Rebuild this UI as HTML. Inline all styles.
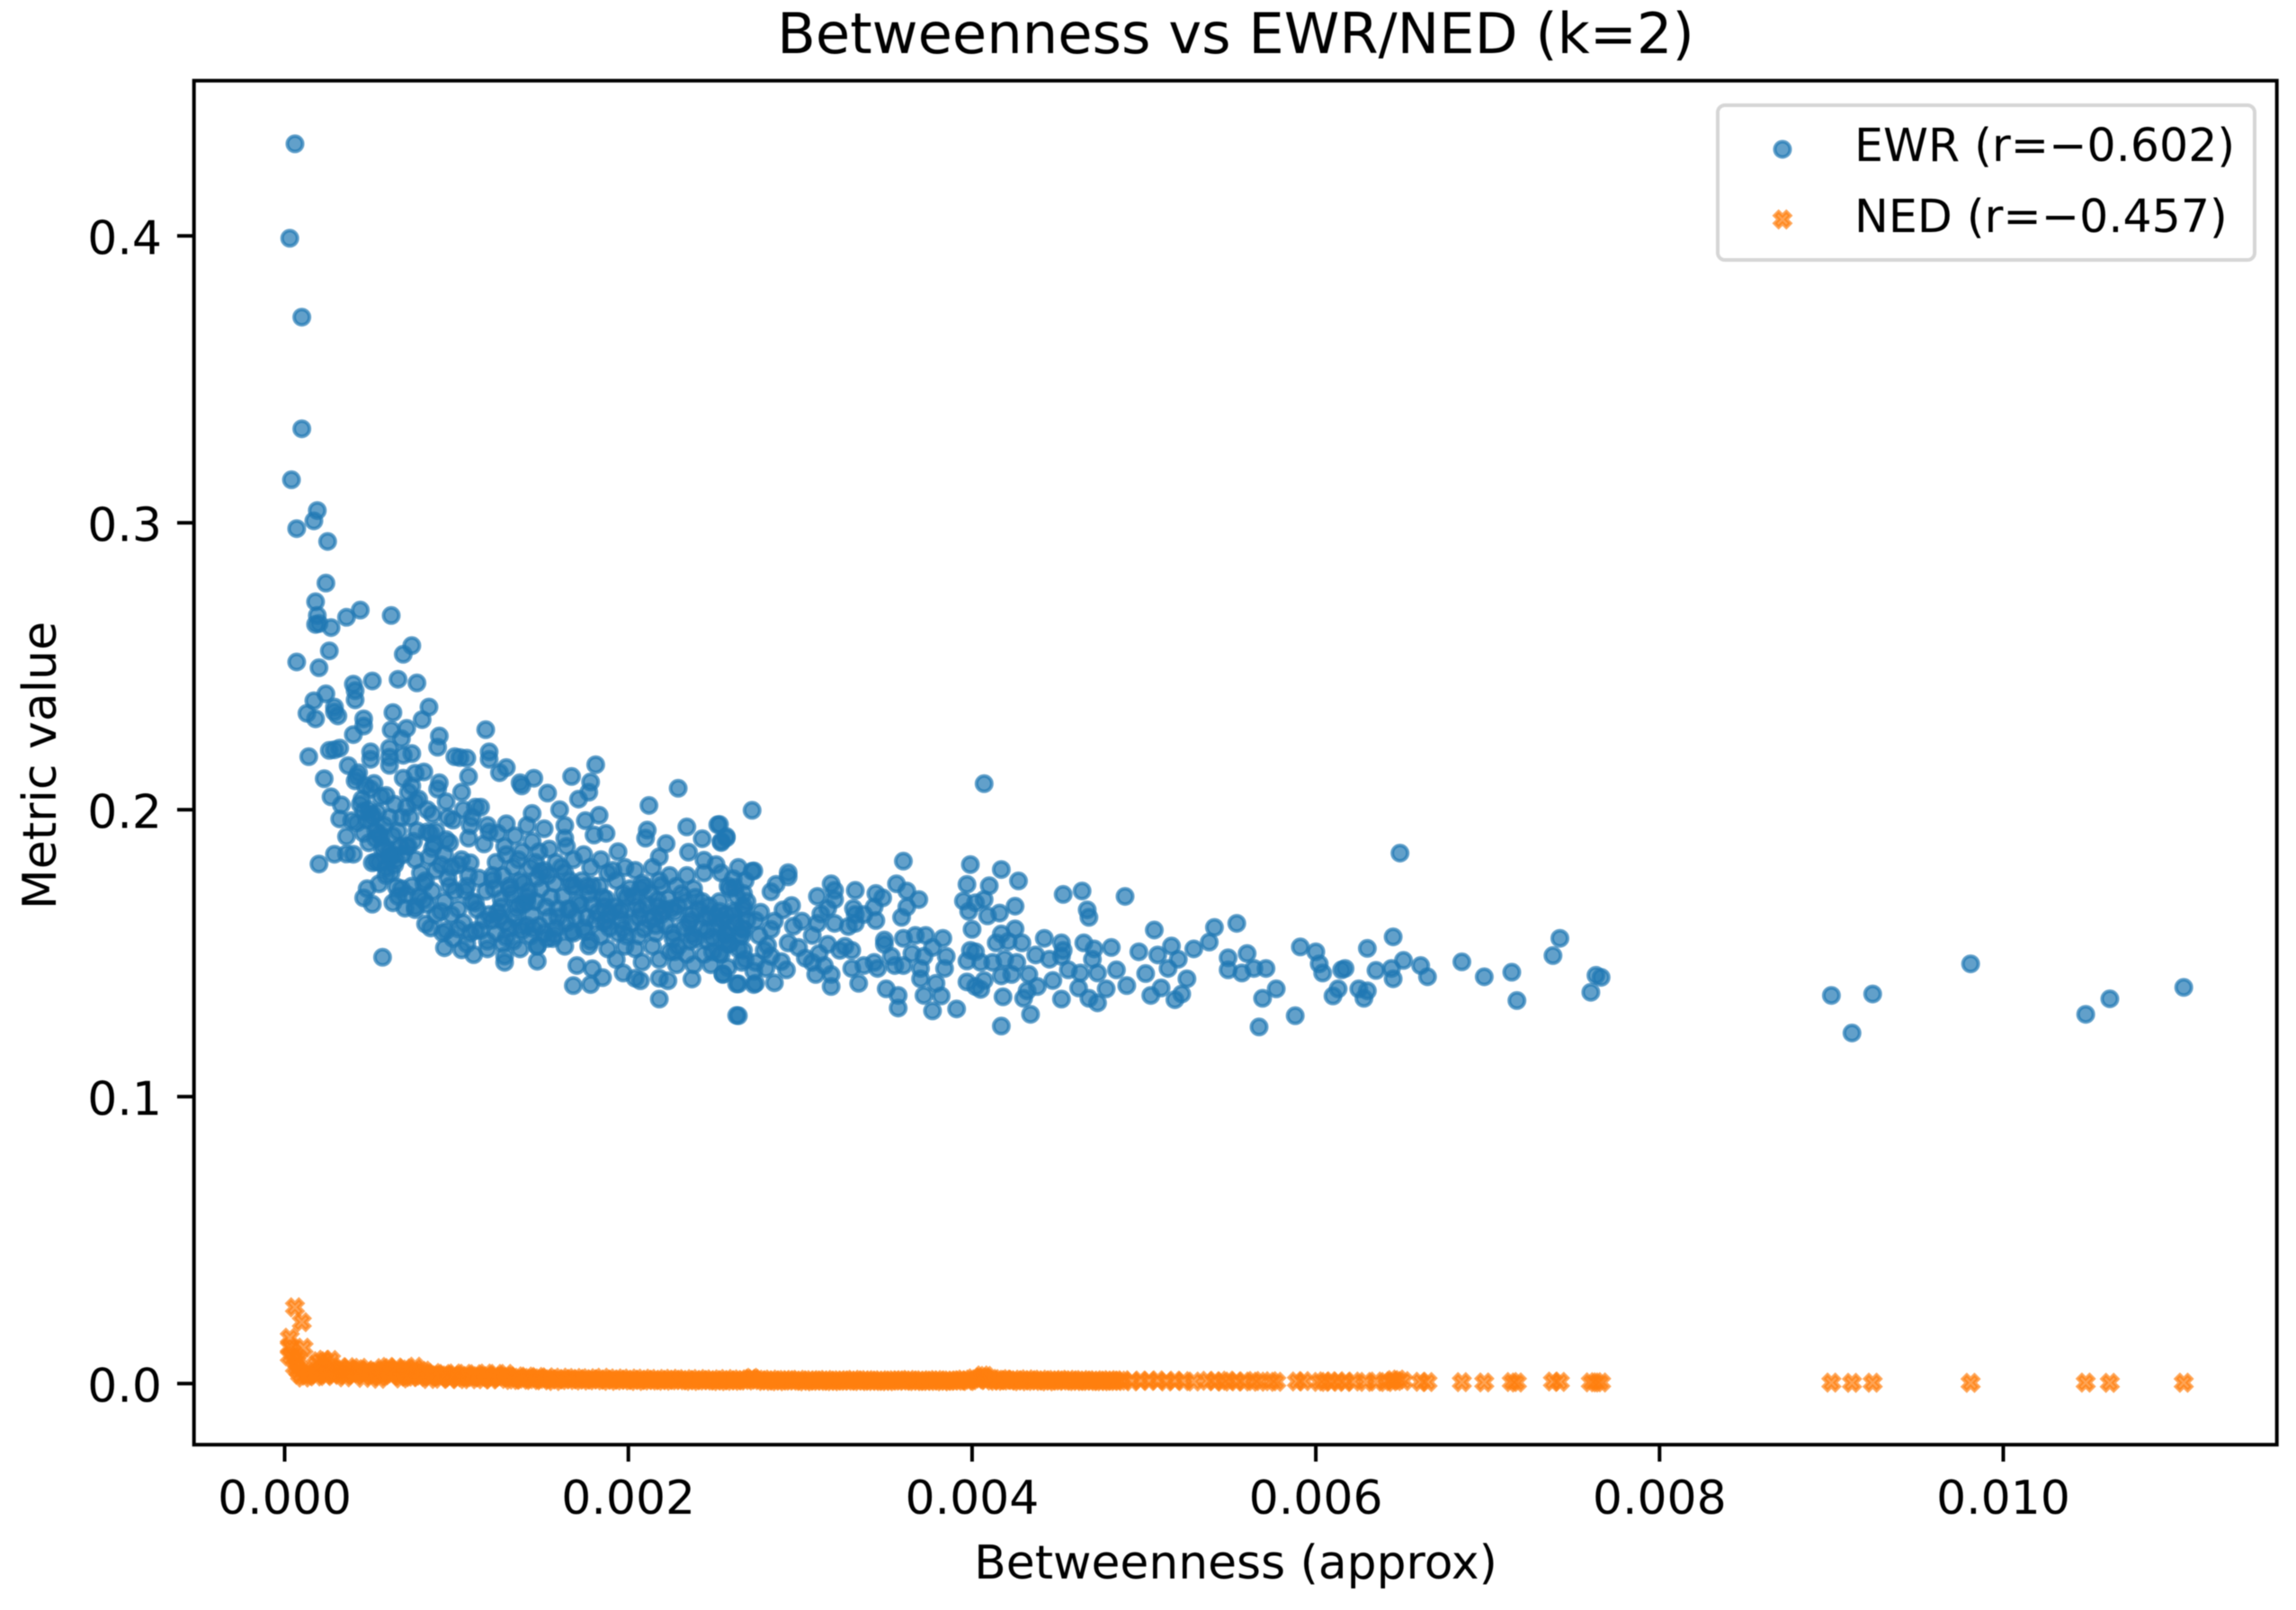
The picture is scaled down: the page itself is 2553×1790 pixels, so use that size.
<!DOCTYPE html>
<html lang="en">
<head>
<meta charset="utf-8">
<title>Betweenness vs EWR/NED (k=2)</title>
<style>
html,body{margin:0;padding:0;background:#fff;width:2553px;height:1790px;overflow:hidden}
svg{display:block;font-family:"DejaVu Sans","Liberation Sans",sans-serif;fill:#000;filter:blur(0.6px)}
</style>
</head>
<body>
<svg id="chart" width="2553" height="1790" viewBox="0 0 2553 1790" xmlns="http://www.w3.org/2000/svg">
  <rect x="0" y="0" width="2553" height="1790" fill="#fff"/>
  <text x="1374" y="59" font-size="62.3" text-anchor="middle">Betweenness vs EWR/NED (k=2)</text>
  <g id="series-ewr"></g>
  <g id="series-ned"></g>
  <rect x="215.7" y="89.7" width="2316" height="1516.5" fill="none" stroke="#000" stroke-width="4"/>
  <g id="x-axis"></g>
  <g id="y-axis"></g>
  <text x="1374" y="1755" font-size="51.9" text-anchor="middle">Betweenness (approx)</text>
  <text x="0" y="0" font-size="52" text-anchor="middle" transform="translate(62 851) rotate(-90)">Metric value</text>
  <g>
    <rect x="1910" y="117" width="597" height="172" rx="8" ry="8" fill="#fff" fill-opacity="0.8" stroke="#ccc" stroke-opacity="0.8" stroke-width="4"/>
    <circle cx="1982" cy="166" r="8.5" fill="#1f77b4" fill-opacity="0.7" stroke="#1f77b4" stroke-opacity="0.7" stroke-width="4"/>
    <text x="2062" y="179" font-size="50.6">EWR (r=−0.602)</text>
    <path transform="translate(1982 244)" d="M-4.3 -8.6L0 -4.3L4.3 -8.6L8.6 -4.3L4.3 0L8.6 4.3L4.3 8.6L0 4.3L-4.3 8.6L-8.6 4.3L-4.3 0L-8.6 -4.3Z" fill="#ff7f0e" fill-opacity="0.7" stroke="#ff7f0e" stroke-opacity="0.7" stroke-width="4"/>
    <text x="2062" y="258" font-size="50.6">NED (r=−0.457)</text>
  </g>
</svg>
<script>
const xTickValues = [0, 0.002, 0.004, 0.006, 0.008, 0.01];
const xTickLabels = ["0.000", "0.002", "0.004", "0.006", "0.008", "0.010"];
const yTickValues = [0, 0.1, 0.2, 0.3, 0.4];
const yTickLabels = ["0.0", "0.1", "0.2", "0.3", "0.4"];

const ewrBetweenness = [
.00006,.00003,.0001,.0001,.00004,.00007,.00019,.00017,.00025,.00024,
.00018,.00019,.00018,.0002,.00027,.00036,.00044,.00062,.00026,.00007,
.0002,.00074,.00069,.0004,.00041,.00051,.00041,.00066,.00077,.00024,
.00017,.00013,.00018,.00029,.00029,.00031,.00084,.0008,.00063,.00046,
.00046,.00062,.00071,.0004,.00068,.0009,.00089,.00026,.00029,.00032,
.00014,.0005,.0005,.00061,.00061,.00061,.00069,.00074,.00117,.00099,
.00102,.00106,.00119,.00119,.00129,.00125,.00137,.00138,.00145,.00167,
.00181,.00178,.00177,.00171,.00153,.00229,.00212,.00272,
.0002,.00029,.00036,.0004,.00057,.00023,.00027,.00032,.00036,.00048,
.00046,.00051,.00063,.0007,.00076,.00082,.00092,.00093,.00103,.0011,
.00128,.00128,.00147,.0017,.00179,.00185,.00168,.00178,.00197,.00204,
.00207,.00218,.00223,.00218,.00237,.00255,.00263,.00273,.00263,.00183,
.00175,.0018,.00187,.00211,.0021,.00222,.00218,.00234,.00235,.00243,
.00252,.00257,.00254,.00244,.00251,.00272,.00144,.00141,.00129,.00119,
.00151,.0016,.00163,.00163,.00107,.00103,.00111,.00109,.00095,.00086,
.00083,.00094,.00107,.0009,.00089,.00081,.00076,.00069,.00076,.00072,
.00037,.00042,.0005,.00059,.00033,.00039,.00051,.00061,.00049,.00053,
.00063,.00071,.00059,.00055,.00065,
.00043,.00047,.00045,.00049,.00042,.00046,.00052,.00056,
.00054,.00058,.00053,.00057,.00055,.00059,.00064,.00068,
.00063,.00067,.00065,.00062,.00068,.00074,.00078,.00073,
.00077,.00072,.00076,.00079,.00074,.00078,.00083,.00087,
.00084,.00088,.00082,.00086,.00083,.00088,.00085,.00094,
.00098,.00093,.00097,.00095,.00099,.00093,.00097,.00094,
.00098,.00104,.00108,.00103,.00107,.00105,.00109,.00104,
.00108,.00106,.00114,.00118,.00113,.00117,.00112,.00116,
.00114,.00118,.00124,.00128,.00123,.00127,.00122,.00126,
.00124,.00128,.00123,.00127,.00134,.00138,.00133,.00137,
.00132,.00136,.00134,.00138,.00133,.00137,.00144,.00148,
.00143,.00147,.00142,.00146,.00144,.00148,.00143,.00147,
.00154,.00158,.00153,.00157,.00152,.00154,.00158,.00153,
.00164,.00168,.00163,.00167,.00162,.00166,.00164,.00168,
.00163,.00174,.00178,.00173,.00177,.00172,.00176,.00174,
.00178,.00184,.00188,.00183,.00187,.00182,.00186,.00184,
.00188,.00194,.00198,.00193,.00197,.00192,.00196,.00194,
.00198,.00193,.00204,.00208,.00203,.00207,.00202,.00206,
.00204,.00208,.00214,.00218,.00213,.00217,.00212,.00216,
.00214,.00218,.00224,.00228,.00223,.00227,.00222,.00226,
.00224,.00228,.00234,.00238,.00233,.00237,.00232,.00236,
.00234,.00238,.00244,.00243,.00247,.00242,.00246,.00244,
.00248,.00254,.00258,.00253,.00257,.00252,.00256,.00254,
.00258,.00264,.00268,.00263,.00267,.00262,.00266,.00264,
.00268,.00048,.00053,.00058,.00064,.00069,.00075,.00081,
.00041,.00044,.00051,.00055,.00061,.00066,.00071,.00076,
.00085,.00091,.00096,.00101,.00106,.00111,.00116,.00121,
.00126,.00131,.00136,.00141,.00146,.00151,.00156,.00161,
.00166,.00171,.00176,.00181,.00186,.00191,.00196,.00201,
.00206,.00211,.00216,.00221,.00226,.00231,.00236,.00241,
.00246,.00251,.00256,.00261,.00266,.00129,.00139,.00149,
.00159,.00169,.00179,.00189,.00199,.00209,.00219,.00229,
.00239,.00249,.00259,.00269,.00121,.00131,.00141,.00151,
.00046,.00056,.00066,.00086,.00096,.00051,.00061,.00071,
.00081,.00091,.00101,.00111,.00121,.00131,.00141,.00125,
.00135,.00145,.00155,.00165,.00175,.00185,.00195,.00205,
.00215,.00225,.00235,.00245,.00255,.00265,.00119,.00129,
.00139,.00149,.00159,.00169,.00179,.00189,.00199,.00209,
.00219,.00229,.00239,.00249,.00259,.00269,.00137,.00147,
.00157,.00167,.00177,.00187,.00197,.00207,.00217,.00227,
.00237,.00247,.00257,.00267,.00101,.00108,.00118,.00088,
.00277,.00281,.00285,.00289,.00296,.00303,.00312,.00326,
.00407,.00253,.00257,.00254,.00273,.00293,.00293,.00286,.00283,
.00261,.00262,.00267,.0036,.00399,.00417,.00427,.00318,.0032,.00332,
.00344,.00348,.0031,.0032,.00356,.00362,.00369,.00362,.00359,.00397,
.00395,.00398,.0041,.00407,.00402,.00409,.00416,.00425,.00453,.00464,
.00489,.00467,.00468,.00506,.00541,.00554,.00538,.00549,.00549,.00557,
.0056,.00564,.00571,.00529,.00516,.0052,.00514,.00508,.00497,.00525,
.00501,.0049,.00478,.00504,.0051,.00518,.00522,.00484,.00481,.00471,
.0047,.00473,.00465,.00463,.00462,.00452,.00456,.00447,.00468,.00473,
.00452,.00453,.00452,.00442,.00445,.00437,.00434,.00417,.00429,.00425,
.00417,.00421,.00414,.00419,.00426,.00412,.00405,.00423,.00417,.00433,
.00438,.00432,.0043,.00418,.004,.00399,.00397,.00402,.00397,.00402,
.00405,.00407,.00391,.00377,.00372,.00382,.00357,.00357,.0035,.00383,
.00385,.00384,.00379,.0037,.00367,.00373,.00377,.0036,.00365,.00372,
.0037,.0036,.00353,.00355,.00349,.00349,.00343,.00345,.00337,.00332,
.00344,.00337,.00328,.00332,.00343,.00331,.0032,.0031,.00301,.00307,
.00316,.00295,.0029,.00316,.00323,.0033,.00311,.00307,.00314,.00309,
.00318,.00318,.0033,.00334,.00293,.00299,.00292,.00285,.00274,.00264,
.00264,.00255,.00273,.00274,.00276,.00267,.00283,.00279,.00267,.00258,
.00258,.00283,.00274,.00266,.0028,.00253,.00261,.00253,
.00649,.00591,.006,.00602,.00604,.00615,.00617,.00635,.00645,.0063,
.00651,.00644,.00645,.00661,.00665,.00685,.00698,.00714,.00742,.00738,
.00763,.00766,.0076,.00717,.00577,.00569,.00567,.00588,.0061,.00613,
.00625,.0063,.00628,.009,.00924,.00912,.00981,.01048,.01062,.01105
];

const ewrValues = [
.4321,.3992,.3717,.3328,.315,.298,.3043,.3007,.2935,.279,
.2725,.2677,.2646,.2649,.2635,.2671,.2696,.2677,.2554,.2515,
.2495,.2572,.2542,.2438,.2415,.2449,.2383,.2455,.2442,.2404,
.238,.2336,.2317,.2358,.2341,.2327,.2358,.2314,.2339,.2317,
.2292,.2278,.2284,.2262,.2248,.2257,.2218,.2207,.2209,.2215,
.2185,.2202,.2176,.2215,.2183,.2155,.219,.2196,.2279,.2185,
.2182,.218,.2202,.2176,.2147,.2129,.2094,.2083,.211,.2116,
.2157,.2097,.2061,.2037,.2058,.2075,.2015,.1998,
.1811,.1845,.1846,.1845,.1486,.2108,.2045,.1968,.1907,.1725,
.1693,.1671,.1676,.1657,.1662,.1602,.1571,.1519,.1512,.1495,
.149,.1468,.1472,.1457,.1446,.1415,.1387,.1391,.1431,.1413,
.1404,.1413,.1404,.134,.141,.1426,.1393,.1391,.1283,.1981,
.1962,.1912,.1918,.1929,.1901,.1882,.1836,.194,.1852,.1899,
.1948,.1907,.189,.1824,.1809,.1786,.1987,.1945,.1951,.1923,
.1934,.2,.1945,.1901,.2116,.2061,.2009,.1973,.1973,.1984,
.1923,.1896,.1901,.2094,.2072,.2132,.2127,.211,.2028,.2061,
.2154,.2116,.2072,.205,.2017,.1962,.1984,.1973,.1885,.1819,
.1841,.1874,.1797,.1742,.1731,
.2129,.2083,.2037,.2,.1954,.1918,.2092,.2046,
.1991,.1945,.1899,.1863,.1817,.1771,.2019,.1973,
.1909,.1872,.1826,.178,.1725,.2083,.2037,.1973,
.1927,.1872,.1826,.178,.1734,.1698,.2,.1881,
.1835,.1789,.1753,.1716,.167,.1634,.1588,.2028,
.1964,.1844,.1799,.1762,.1716,.168,.1634,.1579,
.1551,.2,.1945,.1826,.1771,.1716,.168,.1606,
.157,.1533,.2009,.1945,.1762,.1716,.1652,.1615,
.1579,.1542,.1918,.1872,.1817,.1771,.1725,.1689,
.1643,.1606,.157,.1533,.1909,.1854,.1799,.1753,
.1707,.167,.1625,.1579,.1542,.1515,.189,.1854,
.1799,.1762,.1716,.168,.1634,.1597,.156,.1524,
.1863,.1817,.1771,.1744,.1661,.1625,.1588,.1551,
.1872,.1826,.178,.1734,.1698,.1652,.1606,.157,
.1524,.1844,.1799,.1753,.1707,.167,.1625,.1588,
.1542,.1826,.178,.1734,.1689,.1643,.1606,.156,
.1515,.1854,.1799,.1753,.1707,.1661,.1615,.157,
.1524,.1478,.1789,.1744,.1698,.1652,.1606,.156,
.1515,.1469,.1799,.1753,.1707,.1661,.1615,.157,
.1524,.1478,.1771,.1734,.1689,.1643,.1597,.1551,
.1505,.146,.1771,.1725,.168,.1634,.1588,.1542,
.1496,.146,.178,.168,.1634,.1588,.1542,.1496,
.146,.178,.1734,.168,.1634,.1588,.1542,.1496,
.145,.1799,.1753,.1698,.1652,.1606,.156,.1515,
.1478,.1964,.1927,.1872,.1808,.1844,.189,.1744,
.2101,.2019,.1973,.1918,.1854,.1698,.2009,.1652,
.1918,.1808,.1734,.1808,.1734,.1579,.1881,.1771,
.1661,.1725,.1826,.168,.1817,.1789,.1551,.1799,
.1753,.168,.1734,.1615,.1661,.1789,.1652,.1725,
.1625,.167,.1597,.1652,.157,.1707,.1615,.1652,
.1579,.1625,.157,.1634,.1588,.1844,.167,.1725,
.1625,.1625,.167,.1588,.156,.1734,.1634,.1524,
.1551,.1505,.1533,.168,.1615,.1588,.1597,.157,
.1995,.1905,.1925,.1865,.1885,.1815,.1835,.1705,
.1685,.1645,.1655,.1675,.1755,.1735,.1695,.1625,
.1655,.1585,.1695,.1655,.1575,.1695,.1645,.1665,
.1625,.1655,.1605,.1625,.1615,.1565,.1635,.1555,
.1745,.1785,.1655,.1735,.1735,.1635,.1695,.1585,
.1735,.1665,.1695,.1555,.1725,.1615,.1595,.1525,
.1565,.1575,.1525,.1615,.1585,.1725,.1685,.1505,
.1565,.1665,.1565,.1665,.1585,.1815,.1515,.1925,
.1643,.1528,.1612,.1471,.1594,.1483,.1637,.1524,
.2091,.1949,.1902,.1886,.1787,.1781,.1766,.174,.1714,
.176,.1729,.1708,.1821,.1809,.1792,.1752,.1742,.1719,.1719,
.1708,.1693,.1698,.1687,.1742,.1717,.1687,.1661,.1625,.174,
.1682,.1646,.1735,.1687,.1676,.163,.164,.1664,.1705,.1717,
.1698,.1651,.1625,.1581,.159,.1604,.1539,.1484,.1442,.1431,
.1499,.1447,.1447,.1515,.1525,.1479,.1447,.1494,.1505,.1411,
.1429,.1387,.1376,.1353,.1379,.1338,.1358,.1442,.152,.1515,
.1479,.1431,.1536,.1431,.1379,.134,.1442,.1405,.1343,.1327,
.1536,.151,.1489,.1552,.1479,.1494,.1287,.1246,.1536,.1585,
.1567,.1541,.1536,.1479,.1468,.1468,.1468,.1426,.1421,.1426,
.1384,.1369,.1343,.1348,.1583,.151,.1473,.1505,.14,.1384,
.1374,.1405,.1306,.1299,.1353,.1351,.1353,.1309,.1376,.1552,
.1489,.1447,.1395,.1411,.1562,.1562,.152,.1552,.1499,.1489,
.1447,.1457,.1489,.1457,.1546,.1531,.1468,.1447,.1457,.1604,
.1614,.1635,.1593,.1635,.1661,.1656,.1604,.1604,.1612,.1562,
.1656,.1666,.1651,.1531,.151,.151,.1499,.1468,.1457,.1426,
.1426,.1384,.1447,.1395,.1536,.152,.1442,.1397,.1395,.1393,
.1282,.1428,.1437,.1614,.1562,.1583,.1583,.151,.151,.1583,
.1531,.1489,.1468,.1468,.1447,.1499,.1646,.1646,
.1849,.1522,.1505,.1463,.1431,.1442,.1447,.144,.1557,.1517,
.1475,.1447,.1411,.1457,.1418,.147,.1418,.1434,.1552,.1492,
.1423,.1416,.1364,.1335,.1376,.1343,.1243,.1282,.1351,.1376,
.1376,.1369,.1343,.1353,.1358,.1222,.1463,.1287,.1341,.1381
];

const nedBetweenness = [
.00006,.0001,.00003,.00011,.00003,.00003,.00007,.00005,.00008,.00006,
.00008,.00011,.00009,.00015,.00018,.00018,.0002,.00021,.00023,.00025,
.00027,.00024,.00028,.00028,.00031,.00033,.00035,.00037,.00039,.00042,
.00044,.00046,.00049,.00051,.00053,.00055,.00057,.0006,.00062,.00065,
.00068,.0007,.00073,.00076,.00078,.00081,.00084,.00087,.0009,.00093,
.00096,.00099,.00102,.00105,.00108,.00111,.00114,.00117,.0012,.00123,
.00126,.00129,.00132,.00135,.00138,.00141,.00144,.00147,.0015,.00153,
.00157,.00161,.00165,.00169,.00173,.00177,.00181,.00185,.00189,.00193,
.00197,.00201,.00205,.00209,.00213,.00217,.00221,.00225,.00229,.00233,
.00237,.00241,.00245,.00249,.00253,.00257,.00261,.00265,.00269,.00272,
.00275,.00279,.00283,.00287,.00291,.00295,.00299,.00303,.00307,.00311,
.00315,.00319,.00323,.00327,.00331,.00335,.00339,.00343,.00347,.00351,
.00355,.00359,.00363,.00367,.00371,.00375,.00379,.00383,.00387,.00391,
.00395,.00398,.00401,.00404,.00406,.00408,.00411,.00414,.00417,.0042,
.00424,.00428,.00432,.00436,.0044,.00444,.00448,.00452,.00456,.0046,
.00464,.00468,.00472,.00476,.0048,.00484,.00488,.00493,.00498,.00503,
.00508,.00513,.00518,.00523,.00529,.00537,.00541,.00546,.00549,.00554,
.00558,.00564,.00567,.00574,.00577,.00589,.00593,.00602,.00605,.00609,
.00613,.00617,.00622,.00629,.00635,.00641,.00644,.00645,.00648,.00651,
.00661,.00665,.00685,.00698,.00714,.00717,.00738,.00742,.0076,.00763,
.00766,.009,.00912,.00924,.00981,.01048,.01062,.01105,
.00013,.00016,.00019,.00022,.00025,.00029,.00032,.00034,.00036,.00038,
.00041,.00043,.00047,.00048,.00052,.00054,.00056,.00059,.00061,.00063,
.00066,.00067,.00069,.00071,.00072,.00074,.00075,.00077,.00079,.0008,
.00083,.00085,.00086,.00089,.00091,.00092,.00095,.00097,.00098,.00101,
.00104,.00107,.0011,.00113,.00116,.00119,.00122,.00125,.00128,.00131,
.00134,.00137,.0014,.00143,.00146,.00149,.00152,.00155,.00159,.00163,
.00167,.00171,.00175,.00179,.00183,.00187,.00191,.00195,.00199,.00203,
.00207,.00211,.00215,.00219,.00223,.00227,.00231,.00235,.00239,.00243,
.00247,.00251,.00255,.00259,.00263,.00267,.00271,.00273,.00277,.00281,
.00285,.00289,.00293,.00297,.00301,.00305,.00309,.00313,.00317,.00321,
.00325,.00329,.00333,.00337,.00341,.00345,.00349,.00353,.00357,.00361,
.00365,.00369,.00373,.00377,.00381,.00385,.00389,.00393,.00397,.00403,
.00405,.00407,.00409,.00412,.00416,.00419,.00422,.00426,.0043,.00434,
.00438,.00442,.00446,.0045,.00454,.00458,.00462,.00466,.0047,.00474,
.00478,.00482,.00486
];

const nedValues = [
.0266,.0214,.016,.0125,.0127,.0095,.0074,.0105,.0085,.0058,
.0045,.0021,.0031,.0035,.0065,.0025,.0078,.0046,.0083,.0062,
.0082,.0026,.0052,.003,.0042,.0056,.0022,.0057,.0036,.005,
.0055,.002,.004,.0028,.0032,.0017,.0054,.0058,.0029,.0056,
.0018,.0053,.0035,.0059,.0023,.0045,.0016,.0037,.0024,.0034,
.00165,.00352,.00238,.00341,.00152,.00328,.00221,.00347,.00143,.00334,
.00229,.00338,.00124,.00251,.00133,.00242,.00118,.00231,.00114,.00219,
.00092,.00208,.00121,.00197,.00104,.00189,.00112,.00203,.00094,.00182,
.00109,.00177,.00091,.00171,.00102,.00163,.00096,.00168,.00113,.00157,
.00088,.00161,.00103,.00149,.00084,.00159,.00093,.00146,.00106,.00201,
.00138,.00087,.00142,.00082,.00129,.00101,.00134,.00079,.00122,.00094,
.00127,.00083,.00118,.00098,.00131,.00086,.00123,.00089,.00116,.00081,
.00119,.00104,.00128,.00085,.00117,.00092,.00124,.00078,.00111,.00097,
.00141,.00088,.00179,.00121,.00283,.00268,.00162,.00093,.00158,.00126,
.00137,.00082,.00147,.00091,.00139,.00077,.00128,.00102,.00136,.00084,
.00126,.00089,.00118,.00081,.00123,.00087,.00115,.00079,.00108,.00093,
.00112,.00076,.00103,.00086,.00071,.00097,.00083,.00068,.00101,.00078,
.00073,.00091,.00066,.00081,.00062,.00074,.00084,.00059,.00079,.00064,
.00082,.00057,.00072,.00061,.00069,.00054,.00083,.00121,.00142,.00088,
.00063,.00052,.00049,.00041,.00053,.00038,.00072,.00058,.00043,.00047,
.00039,.00034,.00028,.00031,.00027,.00033,.00029,.00032,
.0028,.004,.0031,.005,.0033,.0038,.0034,.0046,.0029,.0045,
.0032,.0039,.0035,.0047,.0044,.0042,.0027,.0036,.0048,.0041,
.0043,.0026,.0037,.0024,.0049,.0023,.0039,.0033,.0044,.0028,
.00304,.00251,.00297,.00288,.00167,.00276,.00283,.00224,.00293,.00158,
.00218,.00263,.00227,.00256,.00149,.00261,.00239,.00162,.00244,.00216,
.00143,.00203,.00171,.00197,.00156,.00184,.00163,.00154,.00148,.00159,
.00146,.00161,.00139,.00153,.00144,.00136,.00142,.00137,.00133,.00129,
.00134,.00126,.00131,.00118,.00127,.00135,.00122,.00116,.00124,.00119,
.00121,.00108,.00123,.00117,.00113,.00125,.00164,.00157,.00119,.00106,
.00114,.00107,.00122,.00103,.00098,.00112,.00101,.00109,.00096,.00104,
.00111,.00099,.00105,.00113,.00097,.00102,.00095,.00106,.00114,.00098,
.00109,.00101,.00093,.00104,.00112,.00096,.00103,.00115,.00108,.00152,
.00218,.00197,.00141,.00107,.00113,.00136,.00105,.00116,.00109,.00121,
.00103,.00114,.00106,.00111,.00098,.00117,.00094,.00108,.00101,.00092,
.00105,.00096,.00099
];

const SVG_NS = 'http://www.w3.org/2000/svg';
function xScale(v) { return 316.5 + v * 191100; }
function yScale(v) { return 1538.3 - v * 3190; }
const X_MARK = 'M-4.3 -8.6L0 -4.3L4.3 -8.6L8.6 -4.3L4.3 0L8.6 4.3L4.3 8.6L0 4.3L-4.3 8.6L-8.6 4.3L-4.3 0L-8.6 -4.3Z';

const ewrGroup = document.getElementById('series-ewr');
const ewrCount = Math.min(ewrBetweenness.length, ewrValues.length);
for (let i = 0; i < ewrCount; i++) {
  const dot = document.createElementNS(SVG_NS, 'circle');
  
  
  dot.setAttribute('cx', xScale(ewrBetweenness[i]).toFixed(1));
  dot.setAttribute('cy', yScale(ewrValues[i]).toFixed(1));
  dot.setAttribute('r', '8.5');
  dot.setAttribute('fill', '#1f77b4');
  dot.setAttribute('fill-opacity', '0.7');
  dot.setAttribute('stroke', '#1f77b4');
  dot.setAttribute('stroke-opacity', '0.7');
  dot.setAttribute('stroke-width', '4');
  ewrGroup.appendChild(dot);
}

const nedGroup = document.getElementById('series-ned');
const nedCount = Math.min(nedBetweenness.length, nedValues.length);
for (let i = 0; i < nedCount; i++) {
  const mark = document.createElementNS(SVG_NS, 'path');
  
  
  mark.setAttribute('d', X_MARK);
  mark.setAttribute('transform', 'translate(' + xScale(nedBetweenness[i]).toFixed(1) + ' ' + yScale(nedValues[i]).toFixed(1) + ')');
  mark.setAttribute('fill', '#ff7f0e');
  mark.setAttribute('fill-opacity', '0.7');
  mark.setAttribute('stroke', '#ff7f0e');
  mark.setAttribute('stroke-opacity', '0.7');
  mark.setAttribute('stroke-width', '4');
  nedGroup.appendChild(mark);
}

const xAxis = document.getElementById('x-axis');
xTickValues.forEach(function (value, i) {
  const px = xScale(value);
  const tick = document.createElementNS(SVG_NS, 'line');
  
  
  tick.setAttribute('x1', px);
  tick.setAttribute('x2', px);
  tick.setAttribute('y1', 1606);
  tick.setAttribute('y2', 1625);
  tick.setAttribute('stroke', '#000');
  tick.setAttribute('stroke-width', '4');
  xAxis.appendChild(tick);
  const label = document.createElementNS(SVG_NS, 'text');
  
  
  label.setAttribute('x', px);
  label.setAttribute('y', 1683);
  label.setAttribute('font-size', '52');
  label.setAttribute('text-anchor', 'middle');
  label.textContent = xTickLabels[i];
  xAxis.appendChild(label);
});

const yAxis = document.getElementById('y-axis');
yTickValues.forEach(function (value, i) {
  const py = yScale(value);
  const tick = document.createElementNS(SVG_NS, 'line');
  
  
  tick.setAttribute('x1', 197);
  tick.setAttribute('x2', 216);
  tick.setAttribute('y1', py);
  tick.setAttribute('y2', py);
  tick.setAttribute('stroke', '#000');
  tick.setAttribute('stroke-width', '4');
  yAxis.appendChild(tick);
  const label = document.createElementNS(SVG_NS, 'text');
  
  
  label.setAttribute('x', 180);
  label.setAttribute('y', py + 20);
  label.setAttribute('font-size', '52');
  label.setAttribute('text-anchor', 'end');
  label.textContent = yTickLabels[i];
  yAxis.appendChild(label);
});
</script>
</body>
</html>
